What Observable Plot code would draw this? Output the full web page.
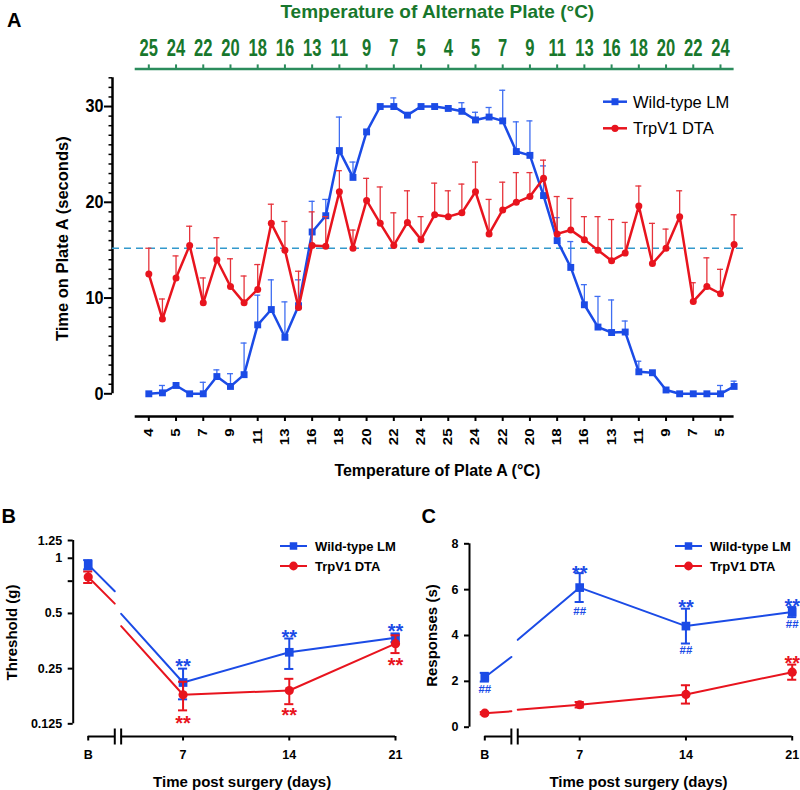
<!DOCTYPE html>
<html><head><meta charset="utf-8">
<script src="https://cdn.jsdelivr.net/npm/d3@7"></script>
<script src="https://cdn.jsdelivr.net/npm/@observablehq/plot@0.6"></script>
<style>
body{margin:0;background:#fff;}
#wrap{position:relative;width:800px;height:790px;overflow:hidden;background:#fff;}
</style></head>
<body><div id="wrap"></div>
<script>
// ---------------- DATA ----------------
// Panel A: 44 successive 1-step temperature stages
const plateATickLabels = ["4","5","7","9","11","13","16","18","20","22","24","25","24","22","20","18","16","13","11","9","7","5"];
const altPlateTickLabels = ["25","24","22","20","18","16","13","11","9","7","5","4","5","7","9","11","13","16","18","20","22","24"];
const wtMean = [0,0.1,0.87,0,0,1.8,0.77,2.0,7.2,8.8,5.9,9.2,16.9,18.6,25.4,22.6,27.35,30.0,30.0,29.1,30.0,30.0,29.8,29.5,28.6,28.9,28.5,25.3,24.9,20.7,16.0,13.2,9.3,6.97,6.4,6.45,2.3,2.2,0.4,0,0,0,0,0.77];
const wtSem = [0,0.77,0,0,1.2,0.7,1.33,3.3,3.1,3.1,3.7,2.7,3.2,1.7,3.5,1.6,0,0,0.9,0,0,0,0,0.9,0.8,1.0,3.2,3.1,3.6,3.1,2.4,2.7,2.1,3.2,3.4,1.15,1.1,0,0,0,0,0,0.87,0.55];
const dtaMean = [12.5,7.8,12.1,15.5,9.5,14.0,11.2,9.5,10.9,17.8,15.0,9.0,15.5,15.4,21.1,15.2,20.2,17.8,15.5,17.9,16.1,18.7,18.5,18.9,21.1,16.7,19.2,20.0,20.6,22.5,16.7,17.1,16.1,15.0,13.9,14.7,19.6,13.6,15.2,18.5,9.65,11.2,10.45,15.6];
const dtaSem = [2.7,2.1,2.3,2.0,2.6,2.3,2.9,2.8,2.6,2.0,3.0,3.8,3.5,3.1,2.2,1.9,2.3,3.8,3.4,3.3,2.4,3.3,2.7,3.0,3.1,3.6,2.9,3.1,2.5,1.9,3.9,3.3,2.4,3.5,4.3,3.2,2.1,4.2,2.0,2.7,1.95,3.0,2.55,3.1];
const chanceLevel = 15.2;

// Panels B & C
const dayLabels = ["B","7","14","21"];
const dayNum = [0,7,14,21];
const threshWT = [0.923,0.21,0.307,0.369];
const threshWTsem = [0.054,0.04,0.058,0.02];
const threshDTA = [0.79,0.18,0.19,0.342];
const threshDTAsem = [0.057,0.032,0.03,0.038];
const respWT = [2.18,6.09,4.41,5.02];
const respWTsem = [0.19,0.63,0.76,0.22];
const respDTA = [0.61,0.98,1.43,2.40];
const respDTAsem = [0.05,0.12,0.40,0.33];
const annB = [
  {day:"7", y:0.2718, t:"**", s:"wt"}, {day:"14", y:0.396, t:"**", s:"wt"}, {day:"21", y:0.425, t:"**", s:"wt"},
  {day:"7", y:0.1338, t:"**", s:"dta"}, {day:"14", y:0.1481, t:"**", s:"dta"}, {day:"21", y:0.2775, t:"**", s:"dta"}];
const annC = [
  {day:"7", y:6.94, t:"**", s:"wt"}, {day:"14", y:5.45, t:"**", s:"wt"}, {day:"21", y:5.48, t:"**", s:"wt"},
  {day:"21", y:2.98, t:"**", s:"dta"},
  {day:"B", y:1.675, t:"##", s:"wt"}, {day:"7", y:5.06, t:"##", s:"wt"}, {day:"14", y:3.35, t:"##", s:"wt"}, {day:"21", y:4.51, t:"##", s:"wt"}];
const seriesNames = ["Wild-type LM","TrpV1 DTA"];

// ---------------- STYLE ----------------
const blue = "#1b4be6", red = "#e8141e";
const blueErr = "#3f6ef2", redErr = "#e6343c";
const green = "#18772c", greenLine = "#2b8c5c";
const font = "'Liberation Sans', Arial, Helvetica, sans-serif";
const col = s => s === "wt" ? blue : red;

const wrap = document.getElementById("wrap");
function place(svg, left, top){ svg.style.position="absolute"; svg.style.left=left+"px"; svg.style.top=top+"px"; wrap.appendChild(svg); return svg; }
function condense(nodes, f){ nodes.forEach(t => { const L = t.getComputedTextLength(); if (L>0){ t.setAttribute("textLength", L*f); t.setAttribute("lengthAdjust","spacingAndGlyphs"); } }); }

// ---------------- PANEL A ----------------
const stepIdx = d3.range(wtMean.length);
const recA = stepIdx.map(i => ({i, wt: wtMean[i], wtS: wtSem[i], dta: dtaMean[i], dtaS: dtaSem[i]}));
const evenIdx = stepIdx.filter(i => i % 2 === 0);
const aX = [-2.668, 43], aY = [-2.37, 33.93];
const wtErrA = recA.filter(d => d.wtS > 0), dtaErrA = recA.filter(d => d.dtaS > 0);
const capA = 0.22;
const svgA = Plot.plot({
  width: 800, height: 490, marginLeft: 112, marginRight: 66.4, marginTop: 68.4, marginBottom: 74,
  x: {domain: aX}, y: {domain: aY},
  style: {fontFamily: font, background: "transparent", overflow: "visible", color: "black"},
  marks: [
    Plot.ruleY([aY[1]], {x1: -1, x2: 43, stroke: greenLine, strokeWidth: 2.5}),
    Plot.axisX(evenIdx, {anchor: "top", tickSize: 5, tickPadding: 7.6, stroke: greenLine, strokeWidth: 2, fill: green, fontSize: 23, fontWeight: "bold", tickFormat: i => altPlateTickLabels[i/2], label: null}),
    Plot.ruleY([aY[0]], {x1: -1, x2: 43, stroke: "black", strokeWidth: 2.5}),
    Plot.axisX(evenIdx, {anchor: "bottom", tickSize: 5, tickPadding: 7, tickRotate: -90, strokeWidth: 2, fontSize: 12.5, fontWeight: "bold", tickFormat: i => plateATickLabels[i/2], label: null}),
    Plot.ruleX([aX[0]], {y1: 0, y2: 33, stroke: "black", strokeWidth: 2.5}),
    Plot.axisY([0,10,20,30], {tickSize: 8, tickPadding: 1, strokeWidth: 2, fontSize: 18, fontWeight: "bold", label: null}),
    Plot.axisY(d3.range(0,34).filter(v => v % 10), {tickSize: 3.5, strokeWidth: 1.5, fill: "none", label: null}),
    Plot.ruleY([chanceLevel], {x1: aX[0], x2: 43.7, stroke: "#3399cc", strokeWidth: 1.6, strokeDasharray: "7,5"}),
    // wild-type
    Plot.ruleX(wtErrA, {x: "i", y1: "wt", y2: d => d.wt + d.wtS, stroke: blueErr, strokeWidth: 1.3}),
    Plot.ruleY(wtErrA, {y: d => d.wt + d.wtS, x1: d => d.i - capA, x2: d => d.i + capA, stroke: blueErr, strokeWidth: 1.3}),
    Plot.line(recA, {x: "i", y: "wt", stroke: blue, strokeWidth: 2.5}),
    Plot.dot(recA, {x: "i", y: "wt", symbol: "square", r: 3.9, fill: blue}),
    // TrpV1 DTA
    Plot.ruleX(dtaErrA, {x: "i", y1: "dta", y2: d => d.dta + d.dtaS, stroke: redErr, strokeWidth: 1.3}),
    Plot.ruleY(dtaErrA, {y: d => d.dta + d.dtaS, x1: d => d.i - capA, x2: d => d.i + capA, stroke: redErr, strokeWidth: 1.3}),
    Plot.line(recA, {x: "i", y: "dta", stroke: red, strokeWidth: 2.5}),
    Plot.dot(recA, {x: "i", y: "dta", r: 3.5, fill: red}),
    // titles
    Plot.text(["Temperature of Alternate Plate (°C)"], {text: d => d, frameAnchor: "top", dx: 14, dy: -57, lineAnchor: "middle", textAnchor: "middle", fill: green, fontSize: 19, fontWeight: "bold", ariaLabel: "alt-title"}),
    Plot.text(["Temperature of Plate A (°C)"], {text: d => d, frameAnchor: "bottom", dx: 14, dy: 54, lineAnchor: "middle", textAnchor: "middle", fontSize: 16, fontWeight: "bold"}),
    Plot.text(["Time on Plate A (seconds)"], {text: d => d, frameAnchor: "left", dx: -50, dy: -4, rotate: -90, lineAnchor: "middle", textAnchor: "middle", fontSize: 16.5, fontWeight: "bold"})
  ]
});
place(svgA, 0, 0);
{
  const xl = svgA.querySelectorAll('g[aria-label="x-axis tick label"]');
  if (xl[0]) condense(xl[0].querySelectorAll("text"), 0.72);
  if (xl[1]) condense(xl[1].querySelectorAll("text"), 1.2);
  svgA.querySelectorAll('g[aria-label="y-axis tick label"]').forEach(g => condense(g.querySelectorAll("text"), 0.9));
  condense(svgA.querySelectorAll('g[aria-label="alt-title"] text'), 0.87);
}

// ---------------- PANELS B & C shared ----------------
const bPos = 0.75, breakL = 2.5, breakR = 2.92, leftSeven = 8.5;
const posOf = lab => { const d = dayNum[dayLabels.indexOf(lab)]; return d === 0 ? bPos : d; };
const breakSym = {draw(ctx){ ctx.moveTo(0,-8); ctx.lineTo(0,8); }};
function connectors(vB, v7, log){
  const lerp = (a,b,t) => log ? Math.exp(Math.log(a) + t*(Math.log(b)-Math.log(a))) : a + t*(b-a);
  const tl = (breakL - bPos)/(leftSeven - bPos), tr = breakR/7;
  return [[{x: bPos, v: vB}, {x: breakL, v: lerp(vB, v7, tl)}], [{x: breakR, v: lerp(vB, v7, tr)}, {x: 7, v: v7}]];
}
function panelMarks(wt, wtS, dta, dtaS, log, yAxisX, yTicks, yTop, yBottomLine, yZero, ann){
  const rec = dayLabels.map((lab,k) => ({lab, x: posOf(lab), wt: wt[k], wtS: wtS[k], dta: dta[k], dtaS: dtaS[k]}));
  const cap = 0.3;
  const marks = [
    Plot.ruleX([yAxisX], {y1: yZero, y2: yTop, stroke: "black", strokeWidth: 2}),
    Plot.axisY(yTicks, {tickSize: 5, tickPadding: 6, strokeWidth: 2, fontSize: 12.5, fontWeight: "bold", tickFormat: d => String(d), label: null}),
    Plot.ruleY([{a: bPos, b: breakL}, {a: breakR, b: 21}], {y: yBottomLine, x1: "a", x2: "b", stroke: "black", strokeWidth: 2}),
    Plot.dot([breakL, breakR], {x: d => d, frameAnchor: "bottom", symbol: breakSym, stroke: "black", fill: "none", strokeWidth: 2}),
    Plot.axisX(rec.map(d => d.x), {tickSize: 4.5, tickPadding: 9, strokeWidth: 2, fontSize: 12.5, fontWeight: "bold", tickFormat: x => dayLabels[rec.findIndex(d => d.x === x)], label: null}),
  ];
  for (const s of ["wt","dta"]) {
    const c = col(s), key = s, sk = s + "S";
    for (const seg of connectors(rec[0][key], rec[1][key], log))
      marks.push(Plot.line(seg, {x: "x", y: "v", stroke: c, strokeWidth: 2}));
    marks.push(
      Plot.line(rec.slice(1), {x: "x", y: key, stroke: c, strokeWidth: 2}),
      Plot.ruleX(rec, {x: "x", y1: d => d[key] - d[sk], y2: d => d[key] + d[sk], stroke: c, strokeWidth: 2}),
      Plot.ruleY(rec, {y: d => d[key] + d[sk], x1: d => d.x - cap, x2: d => d.x + cap, stroke: c, strokeWidth: 2}),
      Plot.ruleY(rec, {y: d => d[key] - d[sk], x1: d => d.x - cap, x2: d => d.x + cap, stroke: c, strokeWidth: 2}),
      s === "wt" ? Plot.dot(rec, {x: "x", y: key, symbol: "square", r: 4.9, fill: c})
                 : Plot.dot(rec, {x: "x", y: key, r: 4.6, fill: c})
    );
  }
  marks.push(
    Plot.text(ann.filter(a => a.t === "**"), {x: a => posOf(a.day), y: "y", text: "t", fill: a => col(a.s), fontSize: 20, fontWeight: "bold", dy: 5.1, lineAnchor: "middle"}),
    Plot.text(ann.filter(a => a.t === "##"), {x: a => posOf(a.day), y: "y", text: "t", fill: a => col(a.s), fontSize: 11.5, fontWeight: "bold", dy: 0.4, lineAnchor: "middle"})
  );
  return marks;
}

// ---------------- PANEL B ----------------
const bY = [0.1066, 1.25];
const svgB = Plot.plot({
  width: 420, height: 300, marginLeft: 72.7, marginRight: 25, marginTop: 50, marginBottom: 54,
  x: {domain: [-0.24, 21]}, y: {type: "log", domain: bY},
  style: {fontFamily: font, background: "transparent", overflow: "visible", color: "black"},
  marks: [
    ...panelMarks(threshWT, threshWTsem, threshDTA, threshDTAsem, true, -0.24, [0.125,0.25,0.5,0.75,1,1.25], 1.25, bY[0], 0.125, annB),
    Plot.text(["Time post surgery (days)"], {text: d => d, frameAnchor: "bottom", dx: 7.8, dy: 45.7, lineAnchor: "middle", textAnchor: "middle", fontSize: 15, fontWeight: "bold"}),
    Plot.text(["Threshold (g)"], {text: d => d, frameAnchor: "left", dx: -60.7, dy: -6, rotate: -90, lineAnchor: "middle", textAnchor: "middle", fontSize: 15, fontWeight: "bold"})
  ]
});
place(svgB, 0, 490);

// ---------------- PANEL C ----------------
const cY = [-0.406, 8];
const svgC = Plot.plot({
  width: 400, height: 300, marginLeft: 69, marginRight: 8.3, marginTop: 53.3, marginBottom: 54,
  x: {domain: [-0.258, 21]}, y: {domain: cY},
  style: {fontFamily: font, background: "transparent", overflow: "visible", color: "black"},
  marks: [
    ...panelMarks(respWT, respWTsem, respDTA, respDTAsem, false, -0.258, [0,2,4,6,8], 8, cY[0], 0, annC),
    Plot.text(["Time post surgery (days)"], {text: d => d, frameAnchor: "bottom", dx: 7.6, dy: 45.7, lineAnchor: "middle", textAnchor: "middle", fontSize: 15, fontWeight: "bold"}),
    Plot.text(["Responses (s)"], {text: d => d, frameAnchor: "left", dx: -37.3, dy: -4.6, rotate: -90, lineAnchor: "middle", textAnchor: "middle", fontSize: 15, fontWeight: "bold"})
  ]
});
place(svgC, 400, 490);

// ---------------- LEGENDS & PANEL LETTERS ----------------
const ov = d3.create("svg").attr("width", 800).attr("height", 790)
  .style("position","absolute").style("left","0px").style("top","0px").style("font-family", font);
function legend(x1, x2, ys, sw, sq, cr, tx, fs, fw){
  seriesNames.forEach((name, k) => {
    const y = ys[k], c = k === 0 ? blue : red, g = ov.append("g");
    g.append("line").attr("x1", x1).attr("x2", x2).attr("y1", y).attr("y2", y).attr("stroke", c).attr("stroke-width", sw);
    const m = (x1 + x2)/2;
    if (k === 0) g.append("rect").attr("x", m - sq/2).attr("y", y - sq/2).attr("width", sq).attr("height", sq).attr("fill", c);
    else g.append("circle").attr("cx", m).attr("cy", y).attr("r", cr).attr("fill", c);
    g.append("text").attr("x", tx).attr("y", y).attr("dominant-baseline","central").attr("font-size", fs).attr("font-weight", fw).attr("fill","black").text(name);
  });
}
legend(603, 627, [101.7, 128.3], 2.5, 7, 3.6, 633, 16.5, "normal");
legend(280, 307, [546, 566], 2, 7.5, 4.4, 315, 13, "bold");
legend(675, 702, [546, 566], 2, 7.5, 4.4, 710, 13, "bold");
[["A", 7, 27], ["B", 1.5, 523], ["C", 421.5, 523]].forEach(([t, x, y]) =>
  ov.append("text").attr("x", x).attr("y", y).attr("font-size", 20).attr("font-weight", "bold").text(t));
wrap.appendChild(ov.node());
</script></body></html>
